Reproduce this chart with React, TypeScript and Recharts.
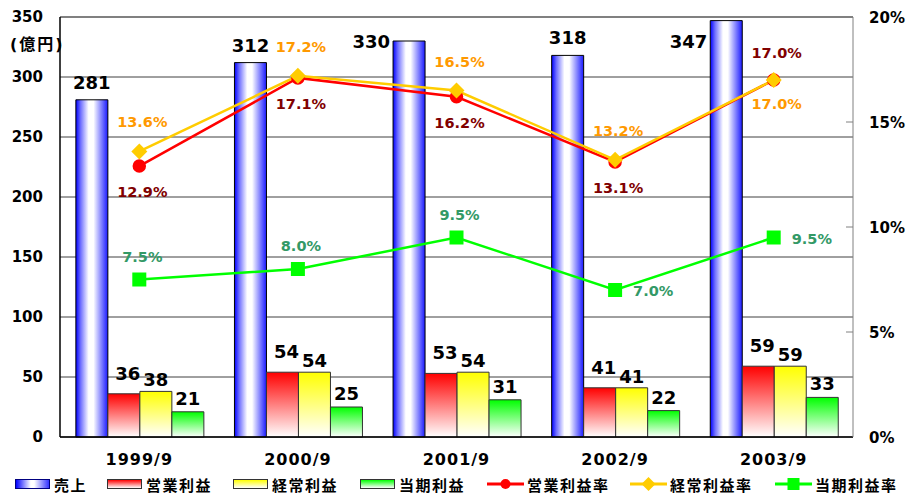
import {
  ComposedChart, Bar, Line, XAxis, YAxis, CartesianGrid,
  LabelList, ReferenceLine,
} from "recharts";

const periods = ["1999/9", "2000/9", "2001/9", "2002/9", "2003/9"];
const sales = [281, 312, 330, 318, 347];
const operatingProfit = [36, 54, 53, 41, 59];
const ordinaryProfit = [38, 54, 54, 41, 59];
const netProfit = [21, 25, 31, 22, 33];
const operatingMargin = [12.9, 17.1, 16.2, 13.1, 17.0];
const ordinaryMargin = [13.6, 17.2, 16.5, 13.2, 17.0];
const netMargin = [7.5, 8.0, 9.5, 7.0, 9.5];
const amountTicks = [0, 50, 100, 150, 200, 250, 300, 350];
const rateTicks = [0, 5, 10, 15, 20];
const categoryEdges = [1, 2, 3, 4];

// which side of the point each rate label sits on
const opLabelSide = ["below", "below", "below", "below", "above"];
const ordLabelSide = ["above", "above", "above", "above", "below"];
const netLabelSide = ["above", "above", "above", "right", "right"];

const FONT = '"DejaVu Sans", "Noto Sans CJK JP", sans-serif';

const data = periods.map((period, i) => ({
  period,
  sales: sales[i],
  op: operatingProfit[i],
  ord: ordinaryProfit[i],
  net: netProfit[i],
  opRate: operatingMargin[i],
  ordRate: ordinaryMargin[i],
  netRate: netMargin[i],
}));

function salesLabel(p: any) {
  const { x, y, width, value, index } = p;
  let tx = x + width / 2;
  let ty = y - 11;
  let anchor: "middle" | "end" = "middle";
  // too close to the top: excel pushed these to the left of the bar
  if (ty - 14 < 17) {
    tx = x - 3;
    ty = Math.max(y + 2, 48);
    anchor = "end";
  }
  return (
    <text key={index} x={tx} y={ty} textAnchor={anchor} fontSize={18}
      fontWeight="bold" fontFamily={FONT} fill="#000">{value}</text>
  );
}

const profitLabel = (rise: number, dx: number) => (p: any) => {
  const { x, y, width, value, index } = p;
  return (
    <text key={index} x={x + width / 2 + dx} y={y - rise} textAnchor="middle"
      fontSize={18} fontWeight="bold" fontFamily={FONT} fill="#000">{value}</text>
  );
};

const rateLabel = (color: string, sides: string[], up: number, down: number) => (p: any) => {
  const { x, y, value, index } = p;
  const side = sides[index];
  let tx = x + 3;
  let ty = y - up;
  let anchor: "middle" | "start" = "middle";
  if (side === "below") ty = y + down;
  if (side === "right") {
    tx = x + 18;
    ty = y + 6;
    anchor = "start";
  }
  return (
    <text key={index} x={tx} y={ty} textAnchor={anchor} fontSize={14.5}
      fontWeight="bold" fontFamily={FONT} fill={color}>{Number(value).toFixed(1)}%</text>
  );
};

const Diamond = (p: any) => (
  <polygon key={p.index}
    points={`${p.cx},${p.cy - 8} ${p.cx + 8},${p.cy} ${p.cx},${p.cy + 8} ${p.cx - 8},${p.cy}`}
    fill="#ffcc00" />
);

const Square = (p: any) => (
  <rect key={p.index} x={p.cx - 7} y={p.cy - 7} width={14} height={14} fill="#00ff00" />
);

const PeriodTick = (p: any) => (
  <text x={p.x} y={p.y + 12} textAnchor="middle" fontSize={16} fontWeight="bold"
    fontFamily={FONT} letterSpacing={1} fill="#000">{p.payload.value}</text>
);

const RateTick = (p: any) => {
  const v = p.payload.value;
  return (
    <g>
      {v > 0 && v < 20 && (
        <line x1={p.x - 23} x2={p.x - 16} y1={p.y} y2={p.y} stroke="#808080" />
      )}
      <text x={p.x} y={p.y + 5.5} textAnchor="start" fontSize={15} fontWeight="bold"
        fontFamily={FONT} fill="#000">{v}%</text>
    </g>
  );
};

const legendItems = [
  { name: "売上", left: 15, kind: "bar", bg: "linear-gradient(to right, #0000ff, #ffffff 45%, #ffffff 55%, #3333ff)", border: "#000080" },
  { name: "営業利益", left: 107, kind: "bar", bg: "linear-gradient(to bottom, #ff0000, #ffffff)", border: "#333" },
  { name: "経常利益", left: 233, kind: "bar", bg: "linear-gradient(to bottom, #ffff00, #ffffff)", border: "#333" },
  { name: "当期利益", left: 360, kind: "bar", bg: "linear-gradient(to bottom, #00ff00, #ffffff)", border: "#333" },
  { name: "営業利益率", left: 487, kind: "circle", color: "#ff0000" },
  { name: "経常利益率", left: 630, kind: "diamond", color: "#ffcc00" },
  { name: "当期利益率", left: 775, kind: "square", color: "#00ff00" },
];

function LegendSwatch({ item }: { item: any }) {
  if (item.kind === "bar") {
    return (
      <span style={{
        display: "inline-block", width: 33, height: 8, background: item.bg,
        border: `1px solid ${item.border}`, marginRight: 4,
      }} />
    );
  }
  return (
    <svg width={37} height={14} style={{ marginRight: 3, display: "block" }}>
      <line x1={0} x2={37} y1={7} y2={7} stroke={item.color} strokeWidth={3} />
      {item.kind === "circle" && <circle cx={18.5} cy={7} r={5} fill={item.color} />}
      {item.kind === "diamond" && <polygon points="18.5,0 25.5,7 18.5,14 11.5,7" fill={item.color} />}
      {item.kind === "square" && <rect x={12.5} y={1} width={12} height={12} fill={item.color} />}
    </svg>
  );
}

export default function App() {
  return (
    <div style={{ position: "absolute", left: 0, top: 0, width: 906, height: 495, background: "#fff" }}>
      <ComposedChart
        width={906}
        height={495}
        data={data}
        margin={{ top: 17, right: 0, bottom: 0, left: 0 }}
        barCategoryGap="10%"
        barGap={0}
      >
        <defs>
          <linearGradient id="gSales" x1="0" y1="0" x2="1" y2="0">
            <stop offset="0%" stopColor="#0000ff" />
            <stop offset="15%" stopColor="#7070ff" />
            <stop offset="40%" stopColor="#ffffff" />
            <stop offset="55%" stopColor="#ffffff" />
            <stop offset="80%" stopColor="#8080ff" />
            <stop offset="100%" stopColor="#1a1aff" />
          </linearGradient>
          <linearGradient id="gOp" x1="0" y1="0" x2="0" y2="1">
            <stop offset="0%" stopColor="#ff0000" />
            <stop offset="100%" stopColor="#ffffff" />
          </linearGradient>
          <linearGradient id="gOrd" x1="0" y1="0" x2="0" y2="1">
            <stop offset="0%" stopColor="#ffff00" />
            <stop offset="100%" stopColor="#ffffff" />
          </linearGradient>
          <linearGradient id="gNet" x1="0" y1="0" x2="0" y2="1">
            <stop offset="0%" stopColor="#00ff00" />
            <stop offset="100%" stopColor="#ffffff" />
          </linearGradient>
        </defs>
        <CartesianGrid yAxisId="amt" vertical={false} stroke="#404040" />
        {/* short inward marks between categories */}
        <XAxis
          xAxisId="edges"
          type="number"
          domain={[0, 5]}
          ticks={categoryEdges}
          height={0}
          mirror
          axisLine={false}
          tick={false}
          tickSize={5}
          tickLine={{ stroke: "#000" }}
        />
        <XAxis
          dataKey="period"
          height={58}
          axisLine={{ stroke: "#000", strokeWidth: 1.5 }}
          tickLine={false}
          tickSize={0}
          tickMargin={16}
          tick={PeriodTick}
        />
        <YAxis
          yAxisId="amt"
          width={60}
          domain={[0, 350]}
          ticks={amountTicks}
          axisLine={{ stroke: "#000", strokeWidth: 1.5 }}
          tickLine={false}
          tickSize={0}
          tickMargin={17}
          tick={{ fill: "#000", fontSize: 15, fontWeight: "bold", fontFamily: FONT }}
        />
        <YAxis
          yAxisId="pct"
          orientation="right"
          width={53}
          domain={[0, 20]}
          ticks={rateTicks}
          axisLine={{ stroke: "#808080" }}
          tickLine={false}
          tickSize={0}
          tickMargin={16}
          tick={RateTick}
        />
        <ReferenceLine yAxisId="amt" y={350} stroke="#808080" strokeWidth={2} />

        <Bar yAxisId="amt" dataKey="sales" fill="url(#gSales)" stroke="#000" isAnimationActive={false}>
          <LabelList dataKey="sales" content={salesLabel} />
        </Bar>
        <Bar yAxisId="amt" dataKey="op" fill="url(#gOp)" stroke="#333" isAnimationActive={false}>
          <LabelList dataKey="op" content={profitLabel(14, 4)} />
        </Bar>
        <Bar yAxisId="amt" dataKey="ord" fill="url(#gOrd)" stroke="#333" isAnimationActive={false}>
          <LabelList dataKey="ord" content={profitLabel(5, 0)} />
        </Bar>
        <Bar yAxisId="amt" dataKey="net" fill="url(#gNet)" stroke="#333" isAnimationActive={false}>
          <LabelList dataKey="net" content={profitLabel(7, 0)} />
        </Bar>

        <Line yAxisId="pct" dataKey="opRate" stroke="#ff0000" strokeWidth={2.5}
          dot={{ r: 5.5, fill: "#ff0000", stroke: "#ff0000" }} isAnimationActive={false}>
          <LabelList dataKey="opRate" content={rateLabel("#800000", opLabelSide, 22, 31)} />
        </Line>
        <Line yAxisId="pct" dataKey="ordRate" stroke="#ffcc00" strokeWidth={2.5}
          dot={Diamond} isAnimationActive={false}>
          <LabelList dataKey="ordRate" content={rateLabel("#ff9900", ordLabelSide, 24, 29)} />
        </Line>
        <Line yAxisId="pct" dataKey="netRate" stroke="#00ff00" strokeWidth={2.5}
          dot={Square} isAnimationActive={false}>
          <LabelList dataKey="netRate" content={rateLabel("#339966", netLabelSide, 18, 30)} />
        </Line>
      </ComposedChart>

      <span style={{
        position: "absolute", left: 10, top: 31, fontFamily: FONT, fontWeight: "bold",
        fontSize: 16, letterSpacing: 2, color: "#000",
      }}>(億円)</span>

      {legendItems.map((item) => (
        <div key={item.name} style={{
          position: "absolute", left: item.left, top: 475, height: 18,
          display: "flex", alignItems: "center", fontFamily: FONT, fontWeight: "bold",
          fontSize: 15, letterSpacing: 1.5, color: "#000", whiteSpace: "nowrap",
        }}>
          <LegendSwatch item={item} />
          <span>{item.name}</span>
        </div>
      ))}
    </div>
  );
}
